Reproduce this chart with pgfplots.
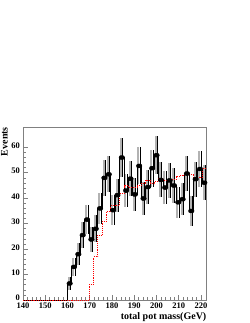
\documentclass[border=0pt]{standalone}
\usepackage{pgfplots}
\pgfplotsset{compat=1.18}
\usepackage{pgfplotstable}
\usepackage{fontspec}
\setmainfont{Liberation Serif}
\pgfplotstableread{
lo c y e
140 nan 0 0
160.000 160.977 6.5 2.55
161.953 162.930 13 3.61
163.906 164.883 18 4.24
165.859 166.836 25.5 5.05
167.813 168.789 31.6 5.62
169.766 170.742 23.8 4.88
171.719 172.695 28 5.29
173.672 174.648 36 6.0
175.625 176.602 48 6.93
177.578 178.555 49.4 7.03
179.531 180.508 35.3 5.94
181.484 182.461 41.2 6.42
183.438 184.414 56 7.48
185.391 186.367 43 6.56
187.344 188.320 47.7 6.91
189.297 190.273 41.5 6.44
191.250 192.227 52.7 7.26
193.203 194.180 39.9 6.32
195.156 196.133 44.4 6.66
197.109 198.086 51.8 7.2
199.063 200.039 56.9 7.54
201.016 201.992 47.2 6.87
202.969 203.945 44.2 6.65
204.922 205.898 47 6.86
206.875 207.852 45 6.71
208.828 209.805 38.4 6.2
210.781 211.758 39.6 6.29
212.734 213.711 49.7 7.05
214.688 215.664 35 5.92
216.641 217.617 47.5 6.89
218.594 219.570 51.5 7.18
220.547 221.523 46.1 6.79
222.5 nan 46.1 0
}\blackdata
\pgfplotstableread{
lo y
140 0
169.766 6.2
171.719 17
173.672 25.5
175.625 31
177.578 35
179.531 37
181.484 37.3
183.438 41.8
185.391 45
187.344 44.4
189.297 44.4
191.250 45
193.203 45.8
195.156 47
197.109 45.7
199.063 46.5
201.016 47.7
202.969 47
204.922 47
206.875 47.5
208.828 48.4
210.781 49
212.734 49.7
214.688 49.5
216.641 47.7
218.594 48
220.547 51.6
222.5 51.6
}\reddata
\begin{document}
\begin{tikzpicture}
\path (0,0) rectangle (249pt,323pt);
\begin{axis}[
  at={(23pt,23pt)}, anchor=south west, scale only axis,
  width=183.5pt, height=173pt,
  xmin=140, xmax=222.5, ymin=0, ymax=68,
  xtick={140,150,...,220}, ytick={0,10,...,60},
  minor x tick num=4, minor y tick num=4,
  tick align=inside, xtick pos=bottom, ytick pos=left,
  major tick length=5pt, minor tick length=2.5pt,
  axis line style={black!50, line width=0.7pt},
  every tick/.style={black!50, line width=0.6pt},
  tick label style={font=\fontsize{8.5}{8.5}\selectfont\bfseries},
  /pgf/number format/assume math mode=true,
  xticklabel style={inner sep=0pt, yshift=-2.3pt},
  yticklabel style={inner sep=0pt, xshift=-3pt, yshift=1.8pt},
  clip=false,
  xlabel={total pot mass(GeV)}, ylabel={Events},
  every axis x label/.style={at={(axis description cs:1,-0.0694)}, anchor=north east, inner sep=0pt, font=\fontsize{10}{10}\selectfont\bfseries},
  every axis y label/.style={at={(axis description cs:-0.0817,1)}, rotate=90, anchor=south east, inner sep=0pt, font=\fontsize{10}{10}\selectfont\bfseries},
]
\addplot[only marks, mark=none, forget plot,
  error bars/.cd, y dir=both, y explicit, error mark=none,
  error bar style={draw=gray!60, line width=2pt}]
  table[x expr=\thisrow{c}-0.35, y=y, y error=e]{\blackdata};
\addplot[only marks, mark=none, forget plot,
  error bars/.cd, y dir=both, y explicit, error mark=none,
  error bar style={draw=black, line width=0.5pt}]
  table[x expr=\thisrow{c}+0.35, y=y, y error=e]{\blackdata};
\addplot[const plot, black, line width=0.9pt] table[x=lo, y=y]{\blackdata};
\addplot[const plot, red, densely dotted, line width=0.9pt] table[x=lo, y=y]{\reddata};
\end{axis}
\end{tikzpicture}
\end{document}
